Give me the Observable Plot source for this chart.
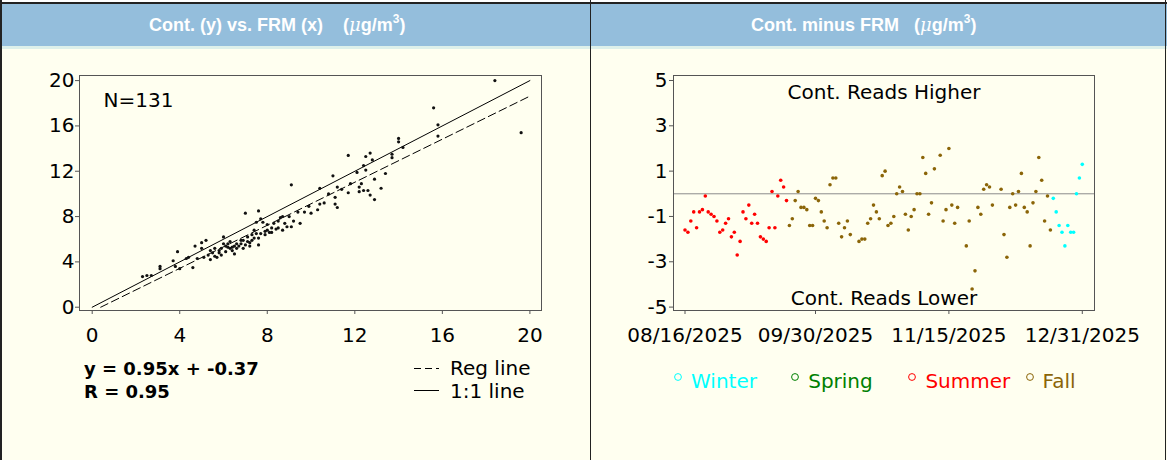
<!DOCTYPE html>
<html>
<head>
<meta charset="utf-8">
<script src="https://cdn.jsdelivr.net/npm/d3@7"></script>
<script src="https://cdn.jsdelivr.net/npm/@observablehq/plot@0.6"></script>
<style>
html,body{margin:0;padding:0;background:#FFFFF0;}
#page{position:relative;width:1167px;height:460px;overflow:hidden;background:#FFFFF0;font-family:"DejaVu Sans",sans-serif;color:#000;}
.abs{position:absolute;}
.hdr{position:absolute;top:4px;height:42px;background:#94BEDC;color:#fff;font:bold 18px "Liberation Sans",Arial,sans-serif;line-height:42px;white-space:pre;}
.mu{font-family:"DejaVu Serif",serif;font-style:italic;font-weight:normal;}
.sup{position:relative;top:-8px;font-size:12px;}
.txt{position:absolute;white-space:pre;font-size:20px;line-height:23px;}
.eq{position:absolute;white-space:pre;font-size:18px;font-weight:bold;line-height:23px;}
</style>
</head>
<body>
<div id="page">
  <div class="abs" style="left:0;top:0;width:1167px;height:2px;background:#fff"></div>
  <div class="abs" style="left:0;top:2px;width:1167px;height:2px;background:#222"></div>
  <div class="hdr" style="left:2px;width:588px;padding-left:0"><span style="position:absolute;left:147px">Cont. (y) vs. FRM (x)    (<span class="mu">μ</span>g/m<span class="sup">3</span>)</span></div>
  <div class="hdr" style="left:591px;width:576px"><span style="position:absolute;left:160px">Cont. minus FRM   (<span class="mu">μ</span>g/m<span class="sup">3</span>)</span></div>
  <div class="abs" style="left:0;top:46px;width:1167px;height:3px;background:#DDF0EA"></div>
  <div class="abs" style="left:0;top:0;width:2px;height:460px;background:#222"></div>
  <div class="abs" style="left:590px;top:0;width:1px;height:460px;background:#222"></div>
  <div class="abs" style="left:1165px;top:0;width:1px;height:460px;background:#222"></div>
  <div id="left" class="abs" style="left:0;top:50px"></div>
  <div id="right" class="abs" style="left:591px;top:50px"></div>
  <div id="legends"></div>
</div>
<script>
// ---------- Left panel data: Cont. (y) vs. FRM (x) ----------
const frm = [2.3,2.5,2.7,3.1,3.1,3.7,3.8,3.9,4.0,4.3,4.4,4.6,4.7,4.8,5.0,5.0,5.2,5.4,5.4,5.6,
  5.7,5.8,5.9,5.9,6.0,6.0,6.2,6.3,6.4,6.5,6.5,6.6,6.7,6.8,6.9,6.9,7.0,7.1,7.2,7.3,
  7.4,7.4,7.5,7.5,7.6,7.6,7.7,7.8,7.9,8.0,8.1,8.2,8.3,8.5,8.5,8.6,8.7,8.7,8.9,9.1,
  9.1,9.5,9.4,9.7,10.0,10.3,10.4,10.4,10.6,10.8,11.0,11.1,11.1,11.2,11.2,11.4,11.7,11.7,11.8,12.1,
  12.2,12.4,12.4,12.5,12.5,12.6,12.7,12.7,12.8,12.9,12.9,13.2,13.4,13.7,14.0,14.2,14.0,13.7,15.6,15.8,
  15.8,18.4,19.6,5.1,5.3,5.5,5.6,5.8,6.1,6.1,6.2,6.3,6.4,6.6,6.8,7.0,7.1,7.2,7.3,7.6,
  7.7,7.9,8.0,8.2,8.4,8.8,9.0,9.2,9.9,12.2,12.3];
const cont = [2.7,2.8,2.8,3.6,3.4,4.1,3.6,4.9,3.4,4.3,4.4,3.5,5.4,4.3,5.7,5.2,5.9,4.2,5.0,5.2,
  4.4,4.8,5.2,4.6,6.2,5.6,5.3,5.2,5.0,4.7,5.4,5.6,5.4,5.9,5.2,5.9,8.3,5.8,5.4,5.9,
  6.1,6.8,7.5,6.5,8.5,5.5,7.8,7.5,6.7,6.8,6.6,6.6,7.4,7.0,7.6,7.9,8.0,6.8,7.1,7.1,
  10.8,7.4,8.4,8.4,8.3,8.6,9.1,10.5,9.2,10.0,11.6,9.7,9.1,8.8,10.6,10.4,10.1,13.4,10.9,11.9,
  10.2,10.3,12.5,13.3,12.1,10.3,13.6,9.9,13.0,9.5,11.3,10.5,11.8,13.5,14.6,14.1,14.9,13.2,17.6,16.1,
  15.1,20.0,15.4,4.4,4.6,4.8,4.5,5.0,4.9,5.4,5.6,5.8,5.3,5.2,5.6,5.5,6.2,5.7,6.4,
  6.1,6.5,6.4,7.3,7.0,6.9,7.4,8.0,7.6,8.9,10.6,10.9];
const regSlope = 0.95;
const regIntercept = -0.37;
const corrR = 0.95;
const nObs = 131;
const lineRange = [0, 20];
const xTicksLeft = [0, 4, 8, 12, 16, 20];
const yTicksLeft = [0, 4, 8, 12, 16, 20];

// ---------- Right panel data: Cont. minus FRM over time ----------
const obsDates = [
 "2025-08-16","2025-08-17","2025-08-18","2025-08-19","2025-08-20","2025-08-21","2025-08-22","2025-08-23",
 "2025-08-24","2025-08-25","2025-08-26","2025-08-27","2025-08-28","2025-08-29","2025-08-30","2025-08-31",
 "2025-09-01","2025-09-02","2025-09-03","2025-09-04","2025-09-05","2025-09-06","2025-09-07","2025-09-08",
 "2025-09-09","2025-09-10","2025-09-11","2025-09-12","2025-09-13","2025-09-14","2025-09-15","2025-09-16",
 "2025-09-17","2025-09-18","2025-09-19","2025-09-20","2025-09-21","2025-09-22","2025-09-23","2025-09-24",
 "2025-09-25","2025-09-26","2025-09-27","2025-09-28","2025-09-29","2025-09-30",
 "2025-10-01","2025-10-02","2025-10-03","2025-10-04","2025-10-05","2025-10-06","2025-10-07","2025-10-08",
 "2025-10-09","2025-10-10","2025-10-11","2025-10-12","2025-10-15","2025-10-16","2025-10-17","2025-10-18",
 "2025-10-19","2025-10-20","2025-10-21","2025-10-22","2025-10-23","2025-10-24","2025-10-25","2025-10-26",
 "2025-10-27","2025-10-28","2025-10-29","2025-10-30","2025-10-31",
 "2025-11-01","2025-11-02","2025-11-03","2025-11-04","2025-11-05","2025-11-06","2025-11-07","2025-11-08",
 "2025-11-09","2025-11-10","2025-11-12","2025-11-13","2025-11-14","2025-11-15","2025-11-16","2025-11-17",
 "2025-11-18","2025-11-21","2025-11-22","2025-11-23","2025-11-24","2025-11-25","2025-11-26","2025-11-27",
 "2025-11-28","2025-11-29","2025-11-30",
 "2025-12-03","2025-12-04","2025-12-05","2025-12-06","2025-12-07","2025-12-08","2025-12-09","2025-12-10",
 "2025-12-11","2025-12-12","2025-12-13","2025-12-14","2025-12-15","2025-12-16","2025-12-17","2025-12-18",
 "2025-12-19","2025-12-20","2025-12-21","2025-12-22","2025-12-23","2025-12-24","2025-12-25","2025-12-26",
 "2025-12-27","2025-12-28","2025-12-29","2025-12-30","2025-12-31"];
const diffs = [
 -1.6,-1.7,-1.2,-0.8,-1.5,-0.8,-0.7,-0.1,-0.8,-0.9,-1.0,-1.2,-1.7,-1.6,-1.3,-1.1,
 -1.9,-1.7,-2.7,-2.1,-0.8,-1.1,-0.5,-1.3,-0.9,-1.3,-1.9,-2.0,-2.1,-1.5,0.1,-1.5,
 -0.1,0.6,0.3,-0.3,-1.4,-1.1,-0.3,0.1,-0.6,-0.6,-0.7,-1.4,-1.4,-0.2,
 -0.3,-0.8,-1.2,-1.5,0.4,0.7,0.7,-1.3,-1.9,-1.5,-1.2,-1.8,
 -2.1,-2.0,-2.0,-1.3,-1.1,-0.5,-0.8,-1.1,0.8,1.0,-1.4,-1.3,-1.0,0.0,0.3,0.1,-0.9,
 -1.6,-1.0,-0.7,0.0,0.0,1.6,0.9,-0.9,-0.4,1.1,
 1.7,-1.2,-0.7,2.0,-0.5,-1.3,-0.6,
 -2.3,-1.2,-4.2,-3.4,-0.6,-0.9,0.2,0.4,0.3,-0.5,
 0.2,-1.8,-2.8,-0.6,0.0,-0.5,0.1,0.9,-0.6,-0.8,-2.3,-0.4,0.1,1.6,0.6,-1.2,-0.1,-1.6,
 -0.2,-0.8,-1.4,-1.7,-2.3,-1.4,-1.7,-1.7,0.0,0.7,1.3];
const seasonNames = ["Winter", "Spring", "Summer", "Fall"];
const seasonColors = ["#00FFFF", "#008000", "#FF0000", "#8B6508"];
const seasonStarts = ["2024-12-21", "2025-03-20", "2025-06-21", "2025-09-21", "2025-12-21"];
const seasonOfStart = ["Winter", "Spring", "Summer", "Fall", "Winter"];
const dateTickLabels = ["08/16/2025", "09/30/2025", "11/15/2025", "12/31/2025"];
const yTicksRight = [-5, -3, -1, 1, 3, 5];

// ---------- Build tables ----------
const parseISO = d3.utcParse("%Y-%m-%d");
const parseMDY = d3.utcParse("%m/%d/%Y");
const fmtMDY = d3.utcFormat("%m/%d/%Y");
const starts = seasonStarts.map(parseISO);
function seasonOf(date) {
  let s = seasonOfStart[0];
  starts.forEach((t, i) => { if (date >= t) s = seasonOfStart[i]; });
  return s;
}
const scatter = frm.map((x, i) => ({x, y: cont[i]}));
const oneToOne = lineRange.map(v => ({x: v, y: v}));
const regStart = Math.max(lineRange[0], -regIntercept / regSlope);
const regLine = [regStart, lineRange[1]].map(x => ({x, y: regSlope * x + regIntercept}));
const series = obsDates.map((d, i) => {
  const date = parseISO(d);
  return {date, diff: diffs[i], season: seasonOf(date)};
});
const dateTicks = dateTickLabels.map(parseMDY);
const hyphen = d => String(d);

const baseStyle = {background: "transparent", fontFamily: "DejaVu Sans", fontSize: "20px", color: "#000", overflow: "visible"};

// ---------- Left chart ----------
const leftChart = Plot.plot({
  width: 590, height: 300,
  marginLeft: 79, marginRight: 49, marginTop: 25, marginBottom: 40,
  style: baseStyle,
  x: {domain: [-0.58, 20.53]},
  y: {domain: [-0.29, 20.45]},
  marks: [
    Plot.frame({stroke: "#555"}),
    Plot.line(oneToOne, {x: "x", y: "y", stroke: "#000", strokeWidth: 1}),
    Plot.line(regLine, {x: "x", y: "y", stroke: "#000", strokeWidth: 1, strokeDasharray: "8,4"}),
    Plot.dot(scatter, {x: "x", y: "y", r: 1.6, fill: "#111"}),
    Plot.axisX(xTicksLeft, {tickSize: 4, tickPadding: 13, stroke: "#555", fill: "#000", fontSize: 20, label: null, tickFormat: hyphen}),
    Plot.axisY(yTicksLeft, {tickSize: 4, tickPadding: 1, stroke: "#555", fill: "#000", fontSize: 20, label: null, tickFormat: hyphen}),
    Plot.text([`N=${nObs}`], {frameAnchor: "top-left", textAnchor: "start", lineAnchor: "middle", dx: 24, dy: 25, fontSize: 20, fill: "#000"})
  ]
});
document.getElementById("left").appendChild(leftChart);

// ---------- Right chart ----------
const rightChart = Plot.plot({
  width: 576, height: 300,
  marginLeft: 82, marginRight: 73, marginTop: 25, marginBottom: 40,
  style: baseStyle,
  x: {type: "utc", domain: [new Date(Date.UTC(2025, 7, 12, 0, 43)), new Date(Date.UTC(2026, 0, 4, 5))]},
  y: {domain: [-5.15, 5.22]},
  color: {domain: seasonNames, range: seasonColors},
  marks: [
    Plot.ruleY([0], {stroke: "#8c8c8c"}),
    Plot.dot(series, {x: "date", y: "diff", fill: "season", r: 1.8}),
    Plot.frame({stroke: "#555"}),
    Plot.axisX(dateTicks, {tickSize: 4, tickPadding: 13, stroke: "#555", fill: "#000", fontSize: 20, label: null, tickFormat: fmtMDY}),
    Plot.axisY(yTicksRight, {tickSize: 4, tickPadding: 2, stroke: "#555", fill: "#000", fontSize: 20, label: null, tickFormat: hyphen}),
    Plot.text(["Cont. Reads Higher"], {frameAnchor: "top", lineAnchor: "middle", dy: 17, fontSize: 20, fill: "#000"}),
    Plot.text(["Cont. Reads Lower"], {frameAnchor: "bottom", lineAnchor: "middle", dy: -12, fontSize: 20, fill: "#000"})
  ]
});
document.getElementById("right").appendChild(rightChart);

// ---------- Legends / captions (HTML below the plots) ----------
const leg = document.getElementById("legends");
function addDiv(cls, left, top, html, color) {
  const d = document.createElement("div");
  d.className = cls;
  d.style.left = left + "px";
  d.style.top = top + "px";
  if (color) d.style.color = color;
  d.innerHTML = html;
  leg.appendChild(d);
  return d;
}
addDiv("eq", 84, 357, `y = ${regSlope}x + ${regIntercept}`);
addDiv("eq", 84, 380, `R = ${corrR}`);
addDiv("txt", 450, 357, "Reg line");
addDiv("txt", 450, 380, "1:1 line");
const sw = d3.select(leg).append("svg").attr("class", "abs")
  .style("left", "414px").style("top", "360px").attr("width", 26).attr("height", 36);
sw.append("line").attr("x1", 0).attr("x2", 25).attr("y1", 8.5).attr("y2", 8.5)
  .attr("stroke", "#000").attr("stroke-dasharray", "7,4");
sw.append("line").attr("x1", 0).attr("x2", 25).attr("y1", 30.5).attr("y2", 30.5)
  .attr("stroke", "#000");

seasonNames.forEach((name, i) => {
  const cx = 678 + i * 117.2;
  const c = d3.select(leg).append("svg").attr("class", "abs")
    .style("left", (cx - 5) + "px").style("top", "372px").attr("width", 10).attr("height", 10);
  c.append("circle").attr("cx", 5).attr("cy", 5).attr("r", 3.4)
    .attr("fill", "none").attr("stroke", seasonColors[i]).attr("stroke-width", 1);
  addDiv("txt", cx + 13, 370, name, seasonColors[i]);
});
</script>
</body>
</html>
